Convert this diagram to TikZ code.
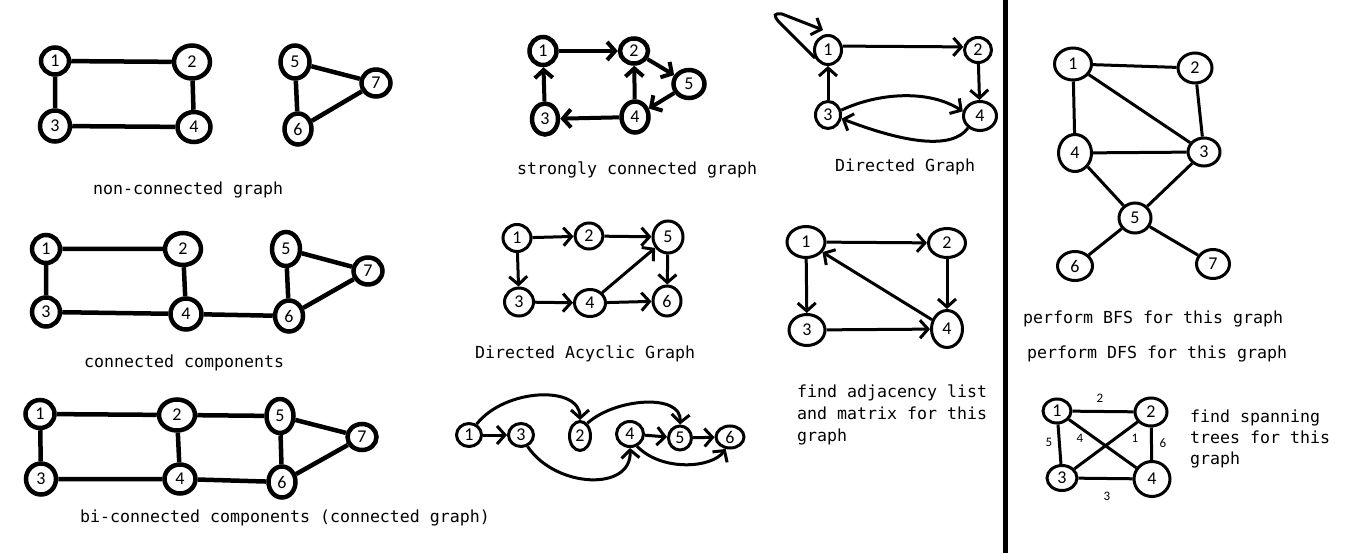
\documentclass[tikz,border=0pt]{standalone}
\usepackage{fontspec}
\setmonofont{DejaVu Sans Mono}
\newfontfamily\numfont{Carlito}
\usetikzlibrary{shapes.geometric,arrows.meta}
\begin{document}
\begin{tikzpicture}[x=1pt,y=-1pt,
  vx/.style={ellipse,draw,inner sep=0pt,font=\numfont\fontsize{18}{18}\selectfont},
  sz/.style 2 args={minimum width=#1pt,minimum height=#2pt},
  LT/.style={line width=4.5pt},
  LS/.style={line width=4pt},
  LM/.style={line width=3pt},
  barb/.style={-{Straight Barb[length=8pt,width=18pt]}},
  lab/.style={anchor=base west,inner sep=0pt,font=\ttfamily\fontsize{16.6}{20}\selectfont},
  wt/.style={inner sep=0pt,font=\numfont\fontsize{13}{13}\selectfont},
]
\useasboundingbox[fill=white] (0,0) rectangle (1354,553);

% ---------- non-connected graph ----------
\node[vx,LT,sz={28}{27}] (a1) at (55,61) {1};
\node[vx,LT,sz={36}{33}] (a2) at (192,62) {2};
\node[vx,LT,sz={30}{31}] (a3) at (55,126) {3};
\node[vx,LT,sz={33}{30}] (a4) at (194,127) {4};
\node[vx,LT,sz={29}{33}] (a5) at (295,62) {5};
\node[vx,LT,sz={29}{27}] (a7) at (376,83) {7};
\node[vx,LT,sz={27}{31}] (a6) at (298,129) {6};
\draw[LT] (a1)--(a2) (a1)--(a3) (a2)--(a4) (a3)--(a4) (a5)--(a6) (a5)--(a7) (a6)--(a7);
\node[lab] (l1) at (93,195) {non-connected graph};

% ---------- connected components ----------
\node[vx,LT,sz={28}{28}] (b1) at (46,249) {1};
\node[vx,LT,sz={36}{32}] (b2) at (183,249) {2};
\node[vx,LT,sz={28}{29}] (b3) at (46,312) {3};
\node[vx,LT,sz={31}{31}] (b4) at (186,314) {4};
\node[vx,LT,sz={28}{34}] (b5) at (286,249) {5};
\node[vx,LT,sz={29}{27}] (b7) at (368,271) {7};
\node[vx,LT,sz={28}{31}] (b6) at (289,316) {6};
\draw[LT] (b1)--(b2) (b1)--(b3) (b2)--(b4) (b3)--(b4) (b4)--(b6) (b5)--(b6) (b5)--(b7) (b6)--(b7);
\node[lab] (l2) at (84,367) {connected components};

% ---------- bi-connected components ----------
\node[vx,LT,sz={29}{28}] (c1) at (40,414) {1};
\node[vx,LT,sz={36}{31}] (c2) at (177,415) {2};
\node[vx,LT,sz={27}{34}] (c5) at (280,416) {5};
\node[vx,LT,sz={29}{26}] (c7) at (362,437) {7};
\node[vx,LT,sz={30}{31}] (c3) at (41,479) {3};
\node[vx,LT,sz={31}{29}] (c4) at (180,479) {4};
\node[vx,LT,sz={27}{31}] (c6) at (282,482) {6};
\draw[LT] (c1)--(c2) (c1)--(c3) (c2)--(c5) (c2)--(c4) (c3)--(c4) (c4)--(c6) (c5)--(c6) (c5)--(c7) (c6)--(c7);
\node[lab] (l3) at (80,522) {bi-connected components (connected graph)};

% ---------- strongly connected graph ----------
\node[vx,LT,sz={27}{28}] (s1) at (543,51) {1};
\node[vx,LT,sz={28}{25}] (s2) at (634,51) {2};
\node[vx,LT,sz={31}{28}] (s5) at (689,84) {5};
\node[vx,LT,sz={26}{31}] (s3) at (545,119) {3};
\node[vx,LT,sz={27}{31}] (s4) at (635,117) {4};
\draw[LS,barb] (s1)--(s2);
\draw[LS,barb] (s2)--(s5);
\draw[LS,barb] (s5)--(s4);
\draw[LS,barb] (s4)--(s2);
\draw[LS,barb] (s4)--(s3);
\draw[LS,barb] (s3)--(s1);
\node[lab] (l4) at (517,175) {strongly connected graph};

% ---------- directed graph ----------
\node[vx,LM,sz={27}{29}] (d1) at (828,50) {1};
\node[vx,LM,sz={27}{25}] (d2) at (978,50) {2};
\node[vx,LM,sz={25}{27}] (d3) at (828,115) {3};
\node[vx,LM,sz={33}{29}] (d4) at (980,116) {4};
\coordinate (lp) at (823,30);
\draw[LM,barb] (d1.15)--(d2.168);
\draw[LM,barb] (d2)--(d4);
\draw[LM,barb] (d3)--(d1);
\draw[LM,barb] (d1.212) -- (779,22) .. controls (773,15) and (774,13) .. (782,14) -- (lp);
\draw[LM,barb] (d3.20) .. controls (880,92) and (930,90) .. (d4.165);
\draw[LM,barb] (d4.225) .. controls (952,150) and (905,143) .. (d3.345);
\node[lab] (l5) at (835,172) {Directed Graph};

% ---------- DAG ----------
\node[vx,LM,sz={28}{27}] (e1) at (517,238) {1};
\node[vx,LM,sz={28}{26}] (e2) at (589,236) {2};
\node[vx,LM,sz={30}{32}] (e5) at (668,237) {5};
\node[vx,LM,sz={29}{28}] (e3) at (519,302) {3};
\node[vx,LM,sz={31}{27}] (e4) at (590,303) {4};
\node[vx,LM,sz={28}{30}] (e6) at (667,301) {6};
\draw[LM,barb] (e1)--(e2);
\draw[LM,barb] (e1)--(e3);
\draw[LM,barb] (e2)--(e5);
\draw[LM,barb] (e3)--(e4);
\draw[LM,barb] (e4)--(e5);
\draw[LM,barb] (e4)--(e6);
\draw[LM,barb] (e5)--(e6);
\node[lab] (l6) at (475,358) {Directed Acyclic Graph};

% ---------- adjacency ----------
\node[vx,LM,sz={38}{31}] (f1) at (806,242) {1};
\node[vx,LM,sz={37}{29}] (f2) at (947,243) {2};
\node[vx,LM,sz={36}{31}] (f3) at (807,330) {3};
\node[vx,LM,sz={31}{37}] (f4) at (947,329) {4};
\draw[LM,barb] (f1)--(f2);
\draw[LM,barb] (f1)--(f3);
\draw[LM,barb] (f2)--(f4);
\draw[LM,barb] (f3)--(f4);
\draw[LM,barb] (f4)--(f1);
\node[lab] (l7a) at (797,397) {find adjacency list};
\node[lab] (l7b) at (797,419) {and matrix for this};
\node[lab] (l7c) at (797,441) {graph};

% ---------- topological graph ----------
\node[vx,LM,sz={25}{23}] (t1) at (469,435) {1};
\node[vx,LM,sz={25}{23}] (t3) at (521,435) {3};
\node[vx,LM,sz={21}{29}] (t2) at (580,436) {2};
\node[vx,LM,sz={27}{25}] (t4) at (630,434) {4};
\node[vx,LM,sz={23}{24}] (t5) at (680,438) {5};
\node[vx,LM,sz={28}{22}] (t6) at (730,437) {6};
\draw[LM,barb] (t1)--(t3);
\draw[LM,barb] (t4)--(t5);
\draw[LM,barb] (t5)--(t6);
\draw[LM,barb] (t1.55) .. controls (505,388) and (580,385) .. (t2.north);
\draw[LM,barb] (t2.60) .. controls (615,398) and (682,393) .. (t5.north);
\draw[LM,barb] (t3.300) .. controls (555,488) and (632,492) .. (t4.south);
\draw[LM,barb] (t4.300) .. controls (662,472) and (712,468) .. (t6.250);

% ---------- BFS graph ----------
\node[vx,LM,sz={37}{32}] (h1) at (1073,64) {1};
\node[vx,LM,sz={34}{30}] (h2) at (1195,68) {2};
\node[vx,LM,sz={33}{37}] (h4) at (1075,153) {4};
\node[vx,LM,sz={32}{28}] (h3) at (1204,152) {3};
\node[vx,LM,sz={32}{30}] (h5) at (1135,218) {5};
\node[vx,LM,sz={35}{29}] (h6) at (1075,266) {6};
\node[vx,LM,sz={33}{29}] (h7) at (1213,264) {7};
\draw[LM] (h1)--(h2) (h1)--(h4) (h1)--(h3) (h2)--(h3) (h4)--(h3) (h4)--(h5) (h3)--(h5) (h5)--(h6) (h5)--(h7);
\node[lab] (l8) at (1023,323) {perform BFS for this graph};
\node[lab] (l9) at (1027,358) {perform DFS for this graph};

% ---------- spanning graph ----------
\node[vx,LM,sz={28}{24}] (k1) at (1057,411) {1};
\node[vx,LM,sz={32}{28}] (k2) at (1151,412) {2};
\node[vx,LM,sz={30}{25}] (k3) at (1062,478) {3};
\node[vx,LM,sz={36}{35}] (k4) at (1152,479) {4};
\draw[LM] (k1)--(k2) (k1)--(k3) (k2)--(k4) (k3)--(k4) (k1)--(k4) (k3)--(k2);
\node[wt] (w2) at (1100,398) {2};
\node[wt] (w5) at (1049,442) {5};
\node[wt] (w4) at (1080,438) {4};
\node[wt] (w1) at (1135,438) {1};
\node[wt] (w6) at (1163,443) {6};
\node[wt] (w3) at (1107,496) {3};
\node[lab] (l10a) at (1190,422) {find spanning};
\node[lab] (l10b) at (1190,443) {trees for this};
\node[lab] (l10c) at (1190,464) {graph};

% ---------- divider ----------
\coordinate (dvT) at (1005.5,0);
\coordinate (dvB) at (1005.5,553);
\draw[line width=5pt] (dvT)--(dvB);
\end{tikzpicture}
\end{document}
